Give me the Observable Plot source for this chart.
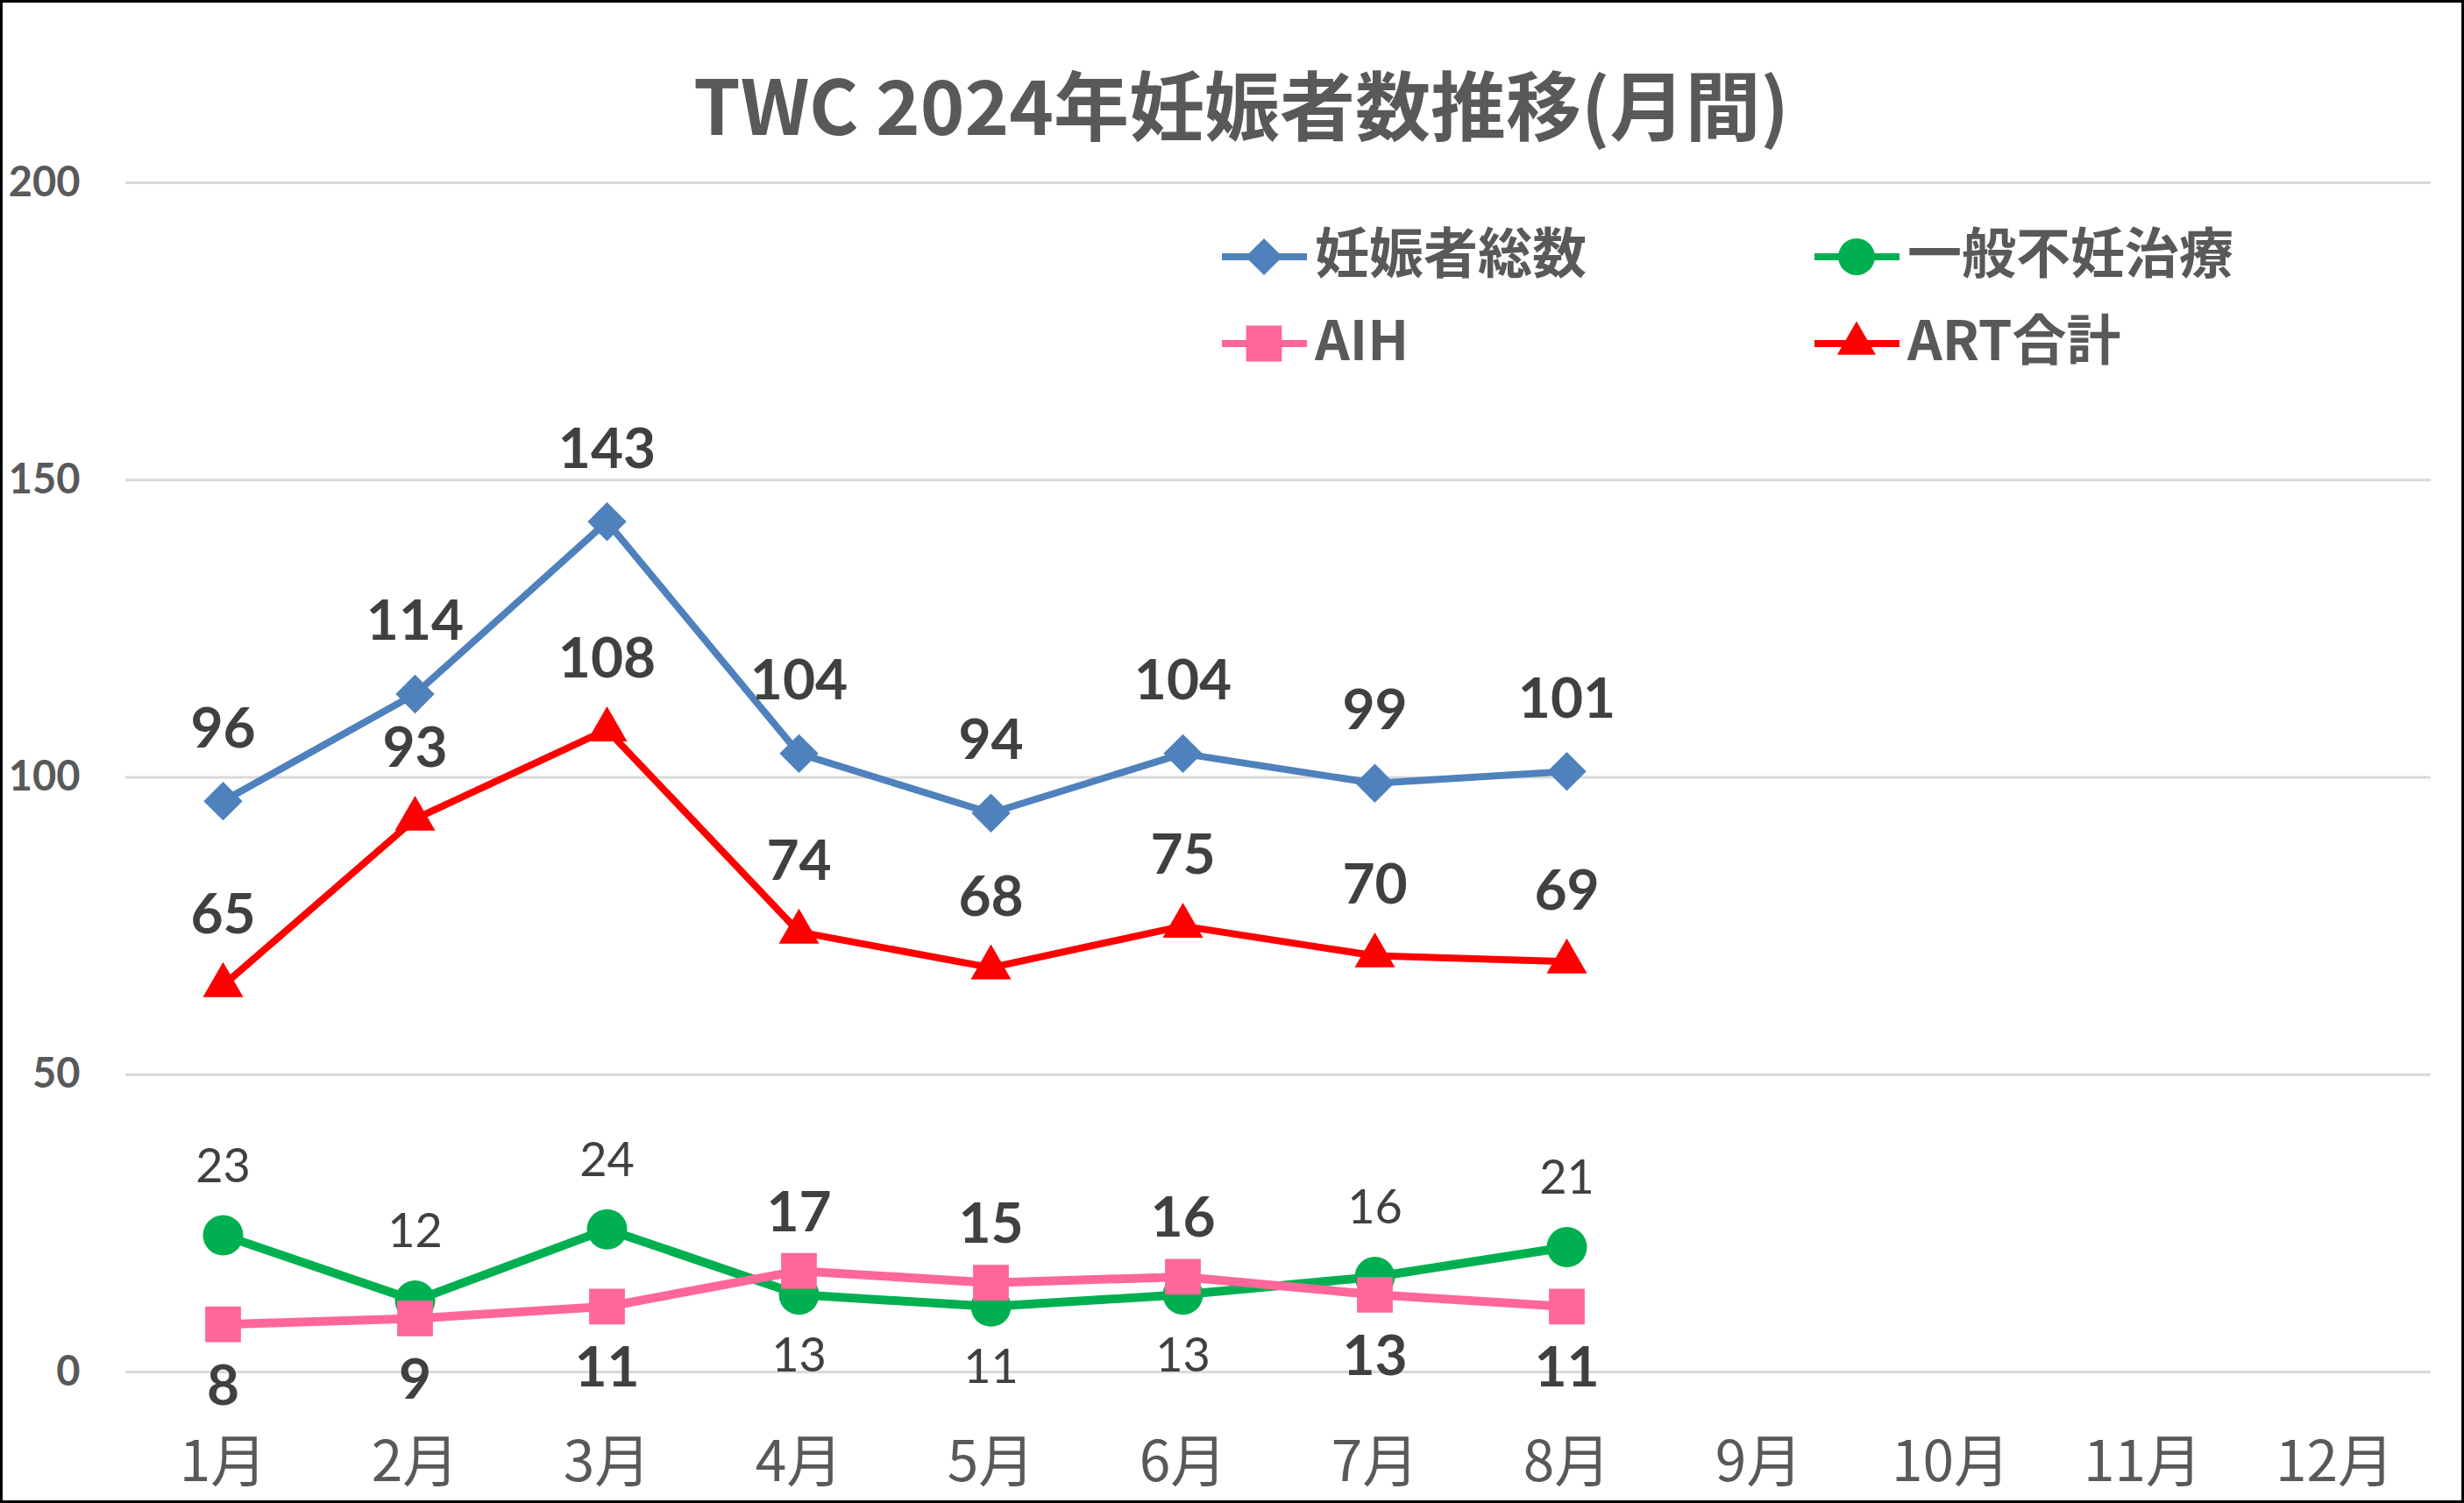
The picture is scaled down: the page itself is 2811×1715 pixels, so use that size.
<!DOCTYPE html>
<html>
<head>
<meta charset="utf-8">
<script src="https://cdn.jsdelivr.net/npm/d3@7"></script>
<script src="https://cdn.jsdelivr.net/npm/@observablehq/plot@0.6"></script>
<style>
  body { margin: 0; background: #fff; }
  #wrap { position: relative; width: 2811px; height: 1715px; overflow: hidden; background: #fff; }
  #wrap svg { position: absolute; left: 0; top: 0; max-width: none; }
  #border { position: absolute; inset: 0; border: 3px solid #000; box-sizing: border-box; pointer-events: none; }
</style>
</head>
<body>
<div id="wrap"><div id="border"></div></div>
<script>
// ---- data ----
const titleText = "TWC 2024年妊娠者数推移(月間)";
const months = ["1月","2月","3月","4月","5月","6月","7月","8月","9月","10月","11月","12月"];
const seriesNames = ["妊娠者総数", "一般不妊治療", "AIH", "ART合計"];
const total   = [96, 114, 143, 104, 94, 104, 99, 101];
const general = [23, 12, 24, 13, 11, 13, 16, 21];
const aih     = [8, 9, 11, 17, 15, 16, 13, 11];
const art     = [65, 93, 108, 74, 68, 75, 70, 69];
const yTicks  = [0, 50, 100, 150, 200];

// ---- build tables ----
const rows = (vals, name, other) => vals.map((v, i) => ({
  month: months[i], value: v, series: name, above: other ? v > other[i] : true
}));
const tTotal = rows(total, seriesNames[0]);
const tGeneral = rows(general, seriesNames[1], aih);
const tAih = rows(aih, seriesNames[2], general);
const tArt = rows(art, seriesNames[3]);

const C = { total: "#4F81BD", general: "#00B050", aih: "#FF6699", art: "#FF0000" };
const labelFill = "#404040";
const numFont = "Lato, 'Noto Sans', sans-serif";
const cjkFont = "'Noto Sans CJK JP', 'Noto Sans', sans-serif";

const boldLbl = { x: "month", y: "value", text: d => String(d.value), lineAnchor: "middle",
  fontSize: 64, fontWeight: "bold", fill: labelFill, fontFamily: numFont };
const regLbl = { x: "month", y: "value", text: d => String(d.value), lineAnchor: "middle",
  fontSize: 54, fontWeight: "normal", fill: labelFill, fontFamily: numFont };

const chart = Plot.plot({
  width: 2811,
  height: 1715,
  marginTop: 208,
  marginBottom: 150,
  marginLeft: 143,
  marginRight: 38,
  style: { background: "transparent", fontFamily: numFont, overflow: "visible" },
  x: { type: "point", domain: months, padding: 0.5, label: null },
  y: { domain: [0, 200], label: null },
  marks: [
    Plot.ruleY(yTicks, { stroke: "#D9D9D9", strokeWidth: 3 }),
    Plot.axisY(yTicks, { tickSize: 0, tickPadding: 52, fontSize: 47, fontWeight: "bold",
      color: "#595959", fontFamily: numFont, label: null }),
    Plot.axisX({ tickSize: 0, tickPadding: 79, fontSize: 64, color: "#595959",
      fontFamily: cjkFont, label: null }),

    Plot.line(tTotal, { x: "month", y: "value", stroke: C.total, strokeWidth: 8 }),
    Plot.dot(tTotal, { x: "month", y: "value", symbol: "diamond2", r: 20, fill: C.total, stroke: "none" }),

    Plot.line(tArt, { x: "month", y: "value", stroke: C.art, strokeWidth: 8 }),
    Plot.dot(tArt, { x: "month", y: "value", symbol: "triangle2", r: 22, fill: C.art, stroke: "none" }),

    Plot.line(tGeneral, { x: "month", y: "value", stroke: C.general, strokeWidth: 10 }),
    Plot.dot(tGeneral, { x: "month", y: "value", symbol: "circle", r: 23, fill: C.general, stroke: "none" }),

    Plot.line(tAih, { x: "month", y: "value", stroke: C.aih, strokeWidth: 10 }),
    Plot.dot(tAih, { x: "month", y: "value", symbol: "square", r: 23, fill: C.aih, stroke: "none" }),

    Plot.text(tTotal, { ...boldLbl, dy: -82 }),
    Plot.text(tArt, { ...boldLbl, dy: -80 }),
    Plot.text(tGeneral, { ...regLbl, filter: d => d.above, dy: -78 }),
    Plot.text(tGeneral, { ...regLbl, filter: d => !d.above, dy: 70 }),
    Plot.text(tAih, { ...boldLbl, filter: d => d.above, dy: -66 }),
    Plot.text(tAih, { ...boldLbl, filter: d => !d.above, dy: 71 })
  ]
});

document.getElementById("wrap").insertBefore(chart, document.getElementById("border"));

// ---- title & legend drawn into the same SVG ----
const svg = d3.select(chart);
svg.append("text")
  .attr("x", 1416).attr("y", 154)
  .attr("text-anchor", "middle")
  .attr("font-family", cjkFont).attr("font-weight", 700).attr("font-size", 86)
  .attr("fill", "#595959")
  .text(titleText);

const legendItems = [
  { name: seriesNames[0], color: C.total,   sym: d3.symbolDiamond2, r: 19, col: 0, row: 0 },
  { name: seriesNames[1], color: C.general, sym: d3.symbolCircle,   r: 21, col: 1, row: 0 },
  { name: seriesNames[2], color: C.aih,     sym: d3.symbolSquare,   r: 23, col: 0, row: 1 },
  { name: seriesNames[3], color: C.art,     sym: d3.symbolTriangle2,r: 21, col: 1, row: 1 }
];
const colX = [1394, 2070];
const rowY = [293, 392];
const lg = svg.append("g").attr("text-anchor", "start");
legendItems.forEach(it => {
  const x0 = colX[it.col], y0 = rowY[it.row];
  const g = lg.append("g");
  g.append("line").attr("x1", x0).attr("x2", x0 + 97).attr("y1", y0).attr("y2", y0)
    .attr("stroke", it.color).attr("stroke-width", 8);
  g.append("path")
    .attr("d", d3.symbol(it.sym, it.r * it.r * Math.PI)())
    .attr("transform", `translate(${x0 + 48},${y0})`)
    .attr("fill", it.color);
  g.append("text")
    .attr("x", x0 + 106).attr("y", y0 + 19)
    .attr("text-anchor", "start")
    .attr("font-family", cjkFont).attr("font-weight", 700).attr("font-size", 62)
    .attr("fill", "#595959")
    .text(it.name);
});
</script>
</body>
</html>
